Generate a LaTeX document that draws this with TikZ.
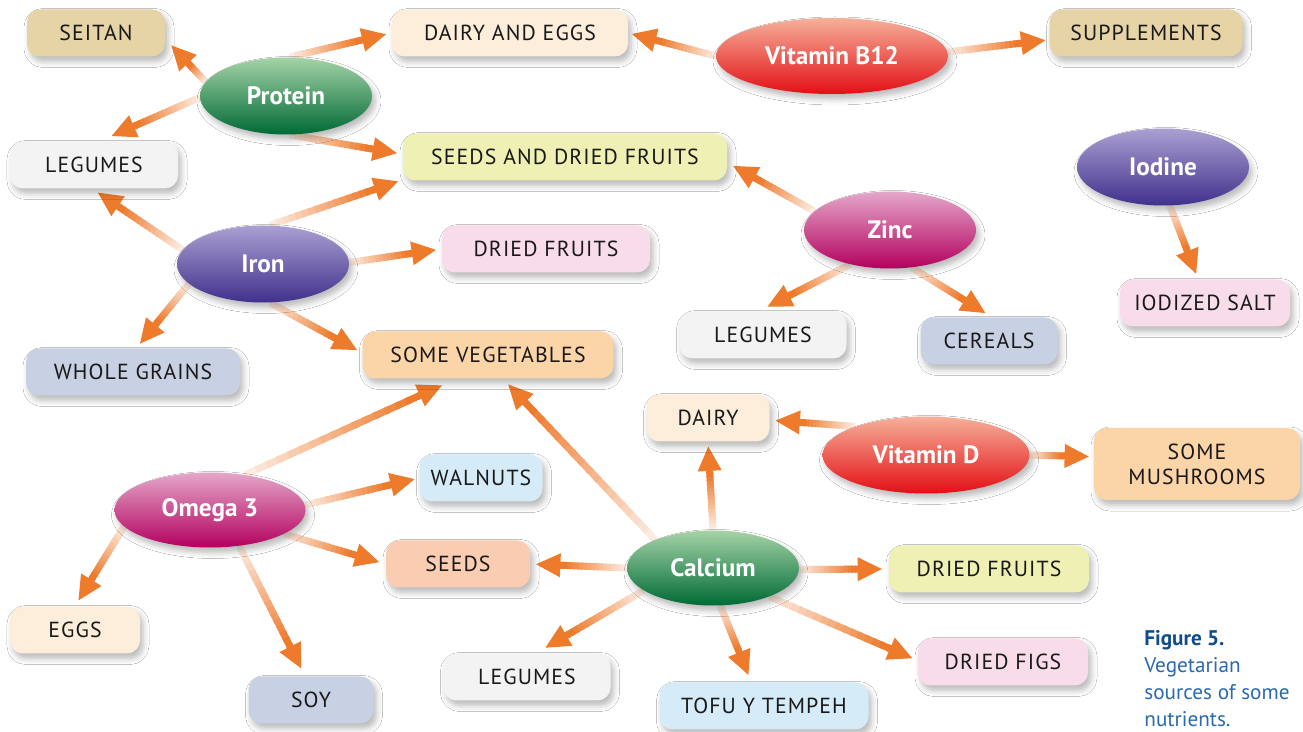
\documentclass[tikz,border=0pt]{standalone}
\usepackage{fontspec}
\setmainfont{PT Sans}
\newfontfamily\foodface{PT Sans}[LetterSpace=5]
\usepackage{xcolor}
\usepackage{tikz}
\usetikzlibrary{arrows.meta,calc,backgrounds,shapes.geometric,shadows.blur}
\definecolor{tangerine}{HTML}{EE7A2C}
\definecolor{straw}{HTML}{E6D3A6}
\definecolor{cream}{HTML}{FDEEDC}
\definecolor{fog}{HTML}{F3F3F3}
\definecolor{citron}{HTML}{EEF0B4}
\definecolor{blush}{HTML}{F9DCEA}
\definecolor{haze}{HTML}{C8D0E4}
\definecolor{peach}{HTML}{FBD4A8}
\definecolor{sky}{HTML}{D5EBF8}
\definecolor{shrimp}{HTML}{FACDB2}
\definecolor{leafhi}{HTML}{A5D3A7}
\definecolor{leaflo}{HTML}{006A35}
\definecolor{rubyhi}{HTML}{F6B09A}
\definecolor{rubylo}{HTML}{E30F15}
\definecolor{violethi}{HTML}{ABA0D2}
\definecolor{violetlo}{HTML}{40308C}
\definecolor{berryhi}{HTML}{E4A7C9}
\definecolor{berrylo}{HTML}{B3005E}
\definecolor{figink}{HTML}{0F4C8A}
\definecolor{figtext}{HTML}{2A6AAD}
\newcommand{\foodfont}{\foodface\fontsize{10.9}{12.4}\selectfont}
\newcommand{\nutrfont}{\fontsize{12.6}{14}\selectfont\bfseries}
\newcommand{\grarr}[3][4pt]{%
  \path (#2) coordinate (gs) ($(#3)!#1!(#2)$) coordinate (gt);
  \path ($(gt)!14pt!(gs)$) coordinate (gm);
  \foreach \k [evaluate=\k as \pc using int(10+90*\k/16)] in {1,...,16}
    {\draw[shaft,draw=tangerine!\pc] ($(gs)!{(\k-1)/16}!(gm)$) -- ($(gs)!{(\k+0.4)/16}!(gm)$);}
  \draw[shaft,draw=tangerine,-{Triangle[length=12.5pt,width=11pt]}] (gm) -- (gt);
}
\tikzset{
  food/.style={rounded corners=6.5pt,minimum height=23.5pt,inner sep=2pt,align=center,font=\foodfont,text=black!90,
    blur shadow={shadow xshift=1.5pt,shadow yshift=-2.5pt,shadow blur radius=3pt,shadow opacity=28}},
  foodt/.style={food,fill=straw},
  foodc/.style={food,fill=cream},
  foodf/.style={food,fill=fog},
  foody/.style={food,fill=citron},
  foodp/.style={food,fill=blush},
  foodh/.style={food,fill=haze},
  foodo/.style={food,fill=peach},
  foods/.style={food,fill=sky},
  foodr/.style={food,fill=shrimp},
  nutr/.style={ellipse,minimum width=86pt,minimum height=38.5pt,inner sep=0pt,font=\nutrfont,text=white,
    blur shadow={shadow xshift=1.5pt,shadow yshift=-2.5pt,shadow blur radius=3pt,shadow opacity=28}},
  nutrg/.style={nutr,top color=leafhi,bottom color=leaflo},
  nutrr/.style={nutr,top color=rubyhi,bottom color=rubylo},
  nutrv/.style={nutr,top color=violethi,bottom color=violetlo},
  nutrb/.style={nutr,top color=berryhi,bottom color=berrylo},
  shaft/.style={line width=3.5pt},
  caption/.style={align=left,inner sep=0pt,font=\fontsize{10.6}{13.5}\selectfont,text=figtext},
}
\begin{document}
\begin{tikzpicture}[x=0.5pt,y=-0.5pt]
\useasboundingbox (0,0) rectangle (1303,732);
\node[foodt,minimum width=69pt] (seitan) at (96,33) {SEITAN};
\node[foodc,minimum width=118pt] (dairyeggs) at (510,33) {DAIRY AND EGGS};
\node[foodt,minimum width=96.5pt] (supplements) at (1146,33) {SUPPLEMENTS};
\node[foodf,minimum width=84pt] (legumesa) at (94,165) {LEGUMES};
\node[foody,minimum width=162pt] (seedsfruits) at (565,157) {SEEDS AND DRIED FRUITS};
\node[foodp,minimum width=104pt] (driedfruitsa) at (546,249) {DRIED FRUITS};
\node[foodf,minimum width=83.5pt] (legumesb) at (763,335) {LEGUMES};
\node[foodh,minimum width=68.5pt] (cereals) at (989,341) {CEREALS};
\node[foodp,minimum width=85pt] (salt) at (1205,303) {IODIZED SALT};
\node[foodh,minimum width=107pt] (grains) at (133,372) {WHOLE GRAINS};
\node[foodo,minimum width=125.5pt] (vegetables) at (488,355) {SOME VEGETABLES};
\node[foodc,minimum width=61.5pt] (dairy) at (708,418) {DAIRY};
\node[foodo,minimum width=103pt,minimum height=36pt] (mushrooms) at (1197,464) {SOME\\MUSHROOMS};
\node[foods,minimum width=61.5pt] (walnuts) at (481,478) {WALNUTS};
\node[foodr,minimum width=72pt] (seeds) at (458,564) {SEEDS};
\node[foody,minimum width=100pt] (driedfruitsb) at (989,569) {DRIED FRUITS};
\node[foodc,minimum width=65pt] (eggs) at (75,630) {EGGS};
\node[foodp,minimum width=85pt] (figs) at (1003,662) {DRIED FIGS};
\node[foodf,minimum width=83.5pt] (legumesc) at (527,677) {LEGUMES};
\node[foodh,minimum width=62.5pt] (soy) at (311,700) {SOY};
\node[foods,minimum width=104.5pt] (tofu) at (764,706) {TOFU Y TEMPEH};
\node[nutrg] (protein) at (286,96) {Protein};
\node[nutrr,minimum width=116pt,minimum height=38pt] (btwelve) at (832,56) {Vitamin B12};
\node[nutrv] (iron) at (263,264) {Iron};
\node[nutrb] (zinc) at (890,230) {Zinc};
\node[nutrv] (iodine) at (1163,167) {Iodine};
\node[nutrr,minimum width=103.5pt] (vitd) at (926,455) {Vitamin D};
\node[nutrb,minimum width=95.5pt,minimum height=37.5pt] (omega) at (210,510) {Omega 3};
\node[nutrg,minimum height=37.5pt] (calcium) at (713,568) {Calcium};
\node[caption,anchor=north west] (fig) at (1144,630) {\textcolor{figink}{\bfseries Figure 5.}\\Vegetarian\\sources of some\\nutrients.};
\begin{scope}[on background layer]
\fill[white] (0,0) rectangle (1303,732);
\grarr{protein.170}{seitan.355} \grarr[2.5pt]{protein.85}{dairyeggs.180}
\grarr[6pt]{protein.181}{legumesa.76} \grarr[2.5pt]{protein.275}{seedsfruits.179}
\grarr[2pt]{iron.80}{seedsfruits.188} \grarr[3pt]{iron.170}{legumesa.266}
\grarr[2.5pt]{iron.1}{driedfruitsa.180} \grarr[2.5pt]{iron.195}{grains.82}
\grarr[2.5pt]{iron.280}{vegetables.179}
\grarr[1.5pt]{btwelve.180}{dairyeggs.0} \grarr[1.5pt]{btwelve.2}{supplements.184}
\grarr[3pt]{zinc.166}{seedsfruits.358} \grarr[4.5pt]{zinc.221}{legumesb.100}
\grarr[3.5pt]{zinc.300}{cereals.83}
\grarr[2.5pt]{iodine.280}{salt.106}
\grarr[2.5pt]{vitd.158}{dairy.358} \grarr[2pt]{vitd.0}{mushrooms.176}
\grarr[2pt]{calcium.90}{dairy.270} \grarr[3.5pt]{calcium.154}{vegetables.302}
\grarr[2.5pt]{calcium.180}{seeds.0} \grarr[3pt]{calcium.359}{driedfruitsb.180}
\grarr[2.5pt]{calcium.333}{figs.179} \grarr[3.5pt]{calcium.281}{tofu.118}
\grarr[5pt]{calcium.198}{legumesc.69}
\grarr[7.5pt]{omega.45}{vegetables.217} \grarr[2pt]{omega.3}{walnuts.180}
\grarr[3pt]{omega.342}{seeds.180} \grarr[3pt]{omega.191}{eggs.90}
\grarr[4pt]{omega.309}{soy.104}
\end{scope}
\end{tikzpicture}
\end{document}
